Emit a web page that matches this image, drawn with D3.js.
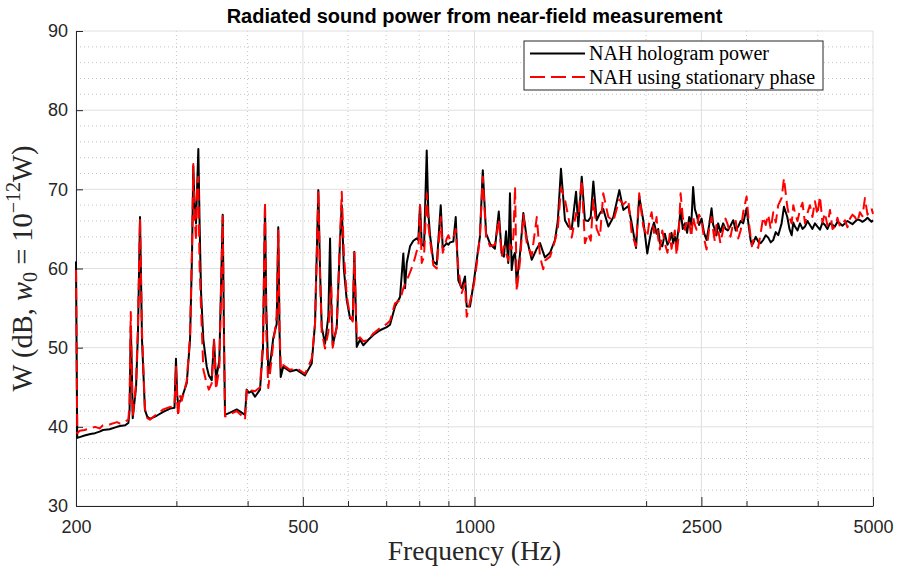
<!DOCTYPE html>
<html>
<head>
<meta charset="utf-8">
<script src="https://cdn.jsdelivr.net/npm/d3@7"></script>
<style>
  body { margin: 0; background: #fff; }
  .tick text { font-family: "Liberation Sans", Arial, sans-serif; font-size: 18px; fill: #262626; }
  .axis path, .axis line { stroke: #262626; }
</style>
</head>
<body>
<div id="chart"></div>
<script>
// frequency (Hz) and radiated power (dB re 1e-12 W)
const freq = [
  200, 201, 203, 207, 212, 216, 220, 223, 229, 236,
  239, 244, 247.1, 248.3, 249.5, 250.5, 251.5, 254.9, 256.9, 259,
  261.1, 264.2, 266.7, 269.6, 277, 284.5, 292.4, 297.7, 299.5, 301,
  302.3, 304, 306.5, 312.8, 317, 319.6, 321.2, 322.8, 324.8, 326.1,
  327.8, 329.4, 331.4, 334.5, 339.1, 342, 346, 349.2, 352.1, 356.8,
  361.7, 363.5, 365.1, 372.6, 382.8, 390.6, 395.8, 398.5, 401.8, 406.6,
  412.1, 420.5, 425.6, 429.1, 431.3, 434.8, 439, 443.6, 449.8, 452.7,
  455, 457.2, 461.9, 474.6, 487.6, 504.3, 518.2, 525.2, 532.2, 535.8,
  539.6, 546.8, 554.2, 558, 561, 564.1, 573.3, 581, 585, 589.9,
  596.9, 605, 611.5, 615.5, 621.5, 629.8, 638.2, 651.3, 664.6, 682.8,
  701.5, 710.9, 725.4, 740.3, 750.2, 755.4, 760.6, 770.8, 781.1, 791.9,
  797, 802.5, 808, 815.6, 824.5, 829.9, 835.6, 846.8, 858.5, 872.5,
  879.6, 893.9, 900, 905.9, 918.1, 927, 936.8, 949.7, 962.4, 969,
  982, 998, 1011, 1022, 1034, 1048, 1065, 1086, 1103, 1116,
  1126, 1136, 1146, 1154, 1162, 1170, 1178, 1186, 1202, 1218,
  1235, 1260, 1286, 1303, 1320, 1329, 1357, 1384, 1400, 1418,
  1441, 1461, 1481, 1507, 1521, 1542, 1562, 1583, 1599, 1616,
  1638, 1660, 1682, 1717, 1752, 1795, 1824, 1861, 1887, 1920,
  1945, 1977,
  2009, 2027, 2045, 2065, 2086, 2100, 2114, 2135, 2157, 2180,
  2201, 2216, 2231, 2246, 2262, 2280, 2299, 2319, 2339, 2360,
  2380, 2400, 2418, 2435, 2452, 2477, 2502, 2527, 2553, 2580,
  2605, 2622, 2640, 2657, 2675, 2700, 2730, 2756, 2782, 2812,
  2843, 2872, 2901, 2930, 2960, 3001, 3025, 3050, 3066, 3082,
  3113, 3145, 3177, 3209, 3242, 3275, 3308, 3342, 3376, 3410,
  3457, 3490, 3537, 3568, 3600, 3624, 3649, 3686, 3723, 3761,
  3799, 3837, 3876, 3915, 3955, 3995, 4036, 4077, 4118, 4160,
  4202, 4245, 4288, 4331, 4375, 4419, 4464, 4510, 4556, 4602,
  4648, 4695, 4743, 4791, 4840, 4890, 4939, 4970, 5000
];

const hologramPower = [
  60.9, 38.6, 38.7, 38.9, 39.1, 39.2, 39.4, 39.6, 39.7, 40.0,
  40.1, 40.2, 40.5, 42.0, 52.7, 48.0, 41.1, 45.0, 52.0, 66.5,
  51.0, 42.1, 41.3, 41.0, 41.4, 41.9, 42.3, 42.4, 48.6, 44.0,
  42.6, 43.2, 43.6, 45.5, 51.0, 62.0, 72.9, 68.0, 65.7, 70.0,
  75.1, 66.0, 57.0, 51.0, 47.6, 46.5, 45.9, 51.0, 46.0, 48.4,
  66.8, 52.0, 41.5, 41.8, 42.2, 41.8, 41.5, 44.7, 44.3, 44.5,
  43.8, 44.7, 50.0, 67.8, 55.0, 46.8, 48.5, 51.2, 53.0, 65.2,
  52.0, 46.3, 47.6, 47.0, 47.2, 46.5, 48.0, 53.1, 69.9, 60.0,
  52.6, 50.5, 54.0, 63.8, 55.0, 50.3, 52.6, 63.6, 68.0, 60.0,
  56.0, 53.7, 53.5, 62.1, 50.1, 51.0, 50.3, 51.0, 51.6, 52.2,
  52.6, 52.9, 55.2, 56.4, 61.9, 57.5, 60.7, 62.8, 63.5, 63.8,
  63.6, 68.0, 63.1, 62.8, 74.9, 67.0, 64.2, 60.9, 60.5, 68.0,
  62.6, 63.2, 63.0, 63.3, 63.4, 66.5, 58.5, 57.5, 59.0, 55.2,
  55.2, 58.5, 61.5, 64.0, 72.4, 64.4, 63.1, 62.5, 67.2, 61.9,
  61.5, 64.7, 60.7, 69.5, 59.8, 61.5, 62.0, 58.1, 61.9, 67.0,
  63.8, 61.1, 62.5, 63.2, 62.0, 61.4, 62.0, 63.6, 66.0, 72.6,
  66.1, 65.3, 65.0, 69.7, 65.3, 71.6, 66.1, 66.0, 66.5, 71.0,
  66.1, 67.0, 67.5, 65.3, 66.5, 69.9, 67.4, 67.9, 65.7, 62.6,
  69.1, 66.1,
  61.9, 63.5, 64.9, 65.8, 64.4, 65.0, 63.2, 62.8, 64.4, 63.0,
  63.6, 64.5, 63.2, 64.0, 63.2, 65.0, 67.4, 65.0, 65.7, 64.5,
  66.5, 65.5, 70.3, 67.5, 66.8, 65.5, 66.3, 64.5, 63.6, 65.5,
  67.6, 65.5, 64.9, 64.2, 65.7, 64.6, 65.7, 65.0, 64.8, 65.4,
  66.1, 64.8, 65.3, 66.0, 65.7, 67.6, 65.5, 63.6, 63.0, 63.2,
  64.0, 63.4, 63.2, 63.6, 64.2, 63.9, 63.3, 63.6, 64.6, 64.2,
  65.7, 67.8, 66.5, 65.0, 64.2, 65.8, 65.3, 64.8, 65.7, 65.0,
  65.3, 66.0, 65.5, 65.0, 65.7, 65.3, 64.9, 65.8, 65.5, 65.0,
  65.7, 65.5, 65.3, 65.9, 65.7, 65.4, 65.7, 66.0, 65.8, 65.6,
  65.9, 66.2, 66.1, 65.9, 66.1, 66.4, 66.1, 65.9, 66.1
];

const stationaryPower = [
  59.8, 39.2, 39.5, 39.6, 39.8, 40.0, 39.8, 40.2, 40.3, 40.6,
  40.4, 40.7, 40.9, 43.0, 54.5, 47.0, 41.3, 45.5, 53.0, 66.3,
  52.0, 42.3, 41.1, 40.9, 41.6, 42.2, 42.5, 42.6, 47.6, 43.0,
  41.3, 44.0, 43.3, 45.8, 51.5, 63.0, 73.2, 66.5, 63.5, 70.5,
  71.6, 60.5, 55.0, 47.2, 45.5, 44.7, 45.5, 51.0, 44.7, 47.5,
  66.6, 51.0, 41.3, 41.6, 42.0, 41.4, 40.9, 44.5, 45.0, 44.6,
  44.5, 45.0, 51.0, 68.4, 52.0, 44.9, 47.5, 50.5, 54.0, 64.8,
  53.0, 47.2, 47.8, 47.2, 47.4, 46.7, 48.6, 53.0, 69.9, 59.0,
  52.0, 49.9, 52.0, 56.0, 57.7, 50.0, 52.6, 64.0, 69.7, 62.0,
  56.5, 54.0, 53.3, 62.0, 51.1, 51.3, 50.8, 51.0, 51.8, 52.5,
  53.0, 53.4, 55.6, 56.0, 57.5, 58.1, 58.5, 59.5, 60.6, 62.2,
  62.5, 68.0, 60.7, 61.5, 69.5, 65.5, 63.6, 60.4, 60.0, 66.5,
  62.0, 63.8, 64.2, 63.6, 63.9, 65.0, 60.0, 56.9, 58.1, 53.9,
  55.8, 58.0, 61.0, 64.0, 71.6, 64.0, 62.8, 63.0, 66.2, 61.5,
  62.8, 62.0, 61.0, 63.0, 62.5, 64.0, 70.3, 57.1, 61.0, 66.8,
  63.2, 61.6, 66.5, 61.5, 59.9, 61.0, 61.5, 63.5, 65.0, 70.2,
  68.7, 66.5, 63.9, 67.0, 66.5, 71.2, 63.2, 64.4, 63.5, 68.7,
  65.0, 64.0, 69.5, 66.5, 66.0, 68.7, 68.1, 68.7, 64.4, 62.8,
  69.5, 65.3,
  64.0, 66.0, 67.1, 64.5, 66.5, 63.8, 62.4, 64.8, 63.2, 62.0,
  64.4, 62.5, 63.6, 64.8, 61.7, 64.0, 69.5, 66.5, 64.9, 66.2,
  65.9, 64.0, 66.5, 65.5, 64.9, 66.8, 66.1, 63.8, 62.4, 65.0,
  66.5, 64.8, 63.4, 65.5, 64.9, 63.2, 64.9, 66.3, 65.5, 64.0,
  65.7, 66.0, 63.8, 64.8, 67.1, 69.1, 66.2, 64.0, 62.8, 63.6,
  63.0, 62.6, 64.5, 66.5, 65.5, 66.8, 65.0, 67.1, 65.8, 68.0,
  68.9, 71.4, 67.8, 66.5, 65.7, 68.0, 67.0, 66.0, 67.4, 68.3,
  65.7, 67.0, 68.0, 66.5, 68.5, 66.8, 69.1, 65.8, 67.0, 65.4,
  67.4, 65.0, 65.3, 66.4, 65.3, 65.6, 66.1, 65.2, 66.3, 66.8,
  66.5, 65.9, 67.1, 66.6, 68.9, 66.8, 67.4, 67.6, 66.9
];

const xTicks = [200, 500, 1000, 2500, 5000];
const xMinorTicks = [300, 400, 600, 700, 800, 900, 2000, 3000, 4000];
const yTicks = [30, 40, 50, 60, 70, 80, 90];
const yMinorTicks = [32, 34, 36, 38, 42, 44, 46, 48, 52, 54, 56, 58, 62, 64, 66, 68, 72, 74, 76, 78, 82, 84, 86, 88];
const seriesNames = ["NAH hologram power", "NAH using stationary phase"];

var margin = { top: 31, right: 24, bottom: 65, left: 76 },
    width = 897 - margin.left - margin.right,
    height = 571 - margin.top - margin.bottom;

var root = d3.select('#chart').append('svg')
    .attr('width', 897)
    .attr('height', 571);

var svg = root.append('g')
    .attr('transform', `translate(${margin.left},${margin.top})`);

var x = d3.scaleLog()
    .domain([200, 5000])
    .range([0, width]);

var y = d3.scaleLinear()
    .domain([30, 90])
    .range([height, 0]);

// grid - minor dotted first, then major solid
svg.selectAll('.xminor')
    .data(xMinorTicks)
    .enter()
    .append('line')
        .attr('x1', d => x(d)).attr('x2', d => x(d))
        .attr('y1', 0).attr('y2', height)
        .attr('stroke', '#c4c4c4')
        .attr('stroke-dasharray', '1,3');

svg.selectAll('.yminor')
    .data(yMinorTicks)
    .enter()
    .append('line')
        .attr('x1', 0).attr('x2', width)
        .attr('y1', d => y(d)).attr('y2', d => y(d))
        .attr('stroke', '#c4c4c4')
        .attr('stroke-dasharray', '1,3');

svg.selectAll('.xmajor')
    .data(xTicks)
    .enter()
    .append('line')
        .attr('x1', d => x(d)).attr('x2', d => x(d))
        .attr('y1', 0).attr('y2', height)
        .attr('stroke', '#dfdfdf');

svg.selectAll('.ymajor')
    .data(yTicks)
    .enter()
    .append('line')
        .attr('x1', 0).attr('x2', width)
        .attr('y1', d => y(d)).attr('y2', d => y(d))
        .attr('stroke', '#dfdfdf');

// axes (ticks point inward like matlab)
svg.append('g')
    .attr('class', 'axis')
    .attr('transform', `translate(0,${height})`)
    .call(d3.axisBottom(x).tickValues(xMinorTicks).tickFormat('').tickSizeInner(-5).tickSizeOuter(0))
    .call(g => g.select('.domain').remove());

svg.append('g')
    .attr('class', 'axis')
    .attr('transform', `translate(0,${height})`)
    .call(d3.axisBottom(x).tickValues(xTicks).tickFormat(d3.format('d')).tickSizeInner(-9).tickSizeOuter(0).tickPadding(14));

svg.append('g')
    .attr('class', 'axis')
    .call(d3.axisLeft(y).tickValues(yTicks).tickSizeInner(-7).tickSizeOuter(0).tickPadding(8));

// curves
var rows = freq.map((f, i) => ({ f: f, holo: hologramPower[i], stat: stationaryPower[i] }));

var lineHolo = d3.line().x(d => x(d.f)).y(d => y(d.holo));
var lineStat = d3.line().x(d => x(d.f)).y(d => y(d.stat));

svg.append('path')
    .datum(rows)
    .attr('fill', 'none')
    .attr('stroke', '#000')
    .attr('stroke-width', 2)
    .attr('stroke-linejoin', 'round')
    .attr('d', lineHolo);

svg.append('path')
    .datum(rows)
    .attr('fill', 'none')
    .attr('stroke', '#ff0000')
    .attr('stroke-width', 2)
    .attr('stroke-dasharray', '12,6')
    .attr('stroke-linejoin', 'round')
    .attr('d', lineStat);

// title
root.append('text')
    .attr('x', margin.left + width / 2)
    .attr('y', 23)
    .attr('text-anchor', 'middle')
    .style('font-family', '"Liberation Sans", Arial, sans-serif')
    .style('font-weight', 'bold')
    .style('font-size', '20px')
    .attr('fill', '#000')
    .text('Radiated sound power from near-field measurement');

// axis labels (latex-ish, serif)
root.append('text')
    .attr('x', margin.left + width / 2)
    .attr('y', 560)
    .attr('text-anchor', 'middle')
    .style('font-family', '"Liberation Serif", "Times New Roman", serif')
    .style('font-size', '27.5px')
    .attr('fill', '#262626')
    .text('Frequency (Hz)');

var ylab = root.append('text')
    .attr('transform', `translate(32,${margin.top + height / 2}) rotate(-90)`)
    .attr('text-anchor', 'middle')
    .style('font-family', '"Liberation Serif", "Times New Roman", serif')
    .style('font-size', '28.5px')
    .attr('fill', '#262626');
ylab.append('tspan').text('W (dB, ');
ylab.append('tspan').style('font-style', 'italic').text('w');
ylab.append('tspan').attr('dy', 5).style('font-size', '20px').text('0');
ylab.append('tspan').attr('dy', -5).text(' = 10');
ylab.append('tspan').attr('dy', -12).style('font-size', '20px').text('\u221212');
ylab.append('tspan').attr('dy', 12).text('W)');

// legend
var legend = root.append('g').attr('transform', 'translate(524,41)');
legend.append('rect')
    .attr('width', 299).attr('height', 49)
    .attr('fill', '#fff')
    .attr('stroke', '#262626');

var legendStyle = [
    { color: '#000', dash: null, w: 2 },
    { color: '#ff0000', dash: '15,6', w: 2 }
];

legend.selectAll('.item')
    .data(seriesNames)
    .enter()
    .append('g')
        .attr('transform', (d, i) => `translate(0,${12.5 + i * 23.5})`)
        .each(function(d, i) {
            var g = d3.select(this);
            g.append('line')
                .attr('x1', 6).attr('x2', 61)
                .attr('stroke', legendStyle[i].color)
                .attr('stroke-width', legendStyle[i].w)
                .attr('stroke-dasharray', legendStyle[i].dash);
            g.append('text')
                .attr('x', 65)
                .attr('dy', '0.33em')
                .style('font-family', '"Liberation Serif", "Times New Roman", serif')
                .style('font-size', '20px')
                .attr('fill', '#000')
                .text(d);
        });
</script>
</body>
</html>
